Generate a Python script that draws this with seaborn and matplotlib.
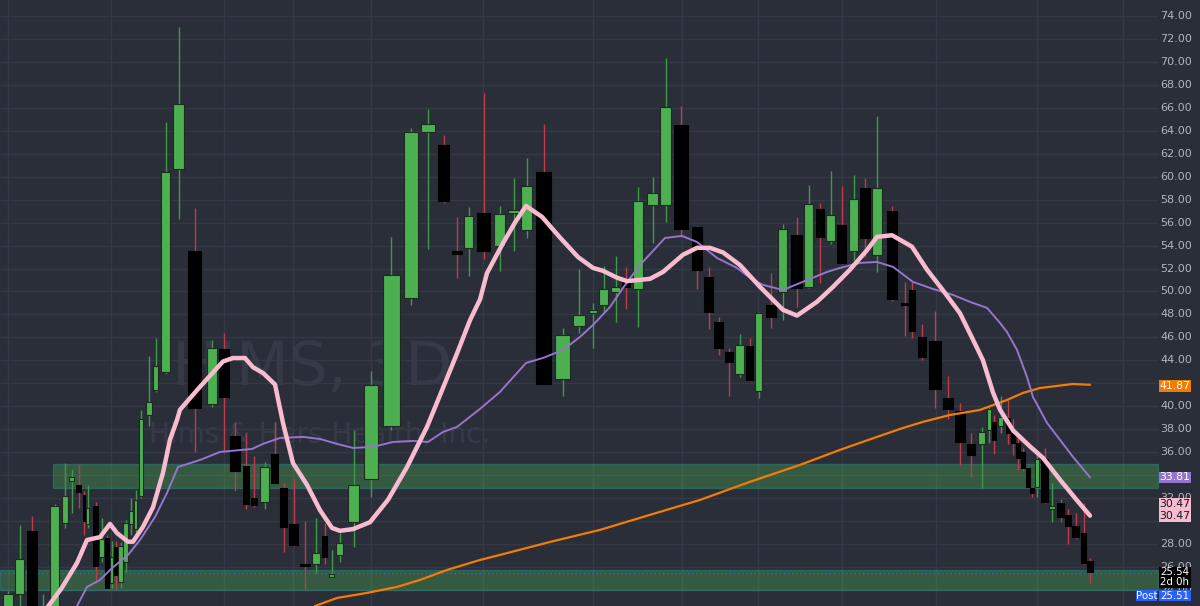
import numpy as np
import pandas as pd
import seaborn as sns
import matplotlib.pyplot as plt
from matplotlib.patches import Rectangle

# bar times (3D bars, plotted on the chart's own time scale)
t = [8, 19.5, 32, 43, 54.5, 65, 71.5, 78.5, 84, 87.5, 95.5, 101.5, 107, 111.5, 115.5,
     120.5, 125.5, 131, 135.5, 141, 149, 155.5, 165.5, 178.5, 194.5, 212, 224, 235, 246,
     254, 264.5, 274.5, 283.5, 293.5, 305, 316, 324.5, 331.5, 339.5, 353.5, 371, 391,
     411, 428, 443.5, 457, 468.5, 483.5, 499.5, 513.5, 526.5, 543.5, 562.5, 579, 593,
     603.5, 615.5, 626, 638, 652.5, 665.5, 681, 697, 708.5, 718.5, 729, 739.5, 749.5,
     758.5, 771, 782.5, 796.5, 808.5, 820, 830.5, 841.5, 853.5, 865, 877, 892, 904.5,
     912, 922, 935, 948, 960, 971, 981.5, 989, 994, 1000.5, 1008, 1013, 1018, 1023,
     1028, 1032, 1037, 1044.5, 1052, 1060.5, 1068, 1075.5, 1083.5, 1090]
opens = [22.0, 23.65, 29.14, 21.0, 21.8, 29.84, 33.5, 33.1, 32.3, 29.75, 31.3, 26.9, 28.5,
         24.6, 27.75, 24.7, 26.4, 29.75, 29.3, 32.2, 39.24, 41.4, 43.0, 60.7, 53.5, 40.2,
         45.0, 37.4, 34.8, 32.0, 31.7, 35.85, 32.9, 29.7, 26.3, 26.3, 28.7, 25.1, 27.0,
         29.9, 33.7, 38.3, 49.4, 63.9, 62.8, 53.4, 53.8, 56.85, 53.95, 56.85, 55.35, 60.4,
         42.4, 47.0, 48.15, 48.85, 49.95, 50.85, 50.2, 57.55, 57.55, 64.5, 55.6, 51.25,
         47.35, 44.75, 42.8, 45.25, 41.35, 48.85, 49.95, 54.9, 50.4, 57.2, 54.4, 55.8,
         53.55, 59.0, 53.2, 57.0, 48.85, 50.15, 46.05, 45.7, 40.7, 39.6, 36.7, 36.7, 37.95,
         38.65, 38.3, 39.0, 37.7, 36.8, 36.0, 34.65, 32.9, 32.95, 35.4, 31.05, 31.6, 30.55,
         29.6, 28.95, 26.55]
highs = [23.9, 29.66, 30.45, 23.65, 31.49, 35.06, 34.5, 34.9, 32.6, 33.1, 31.7, 30.3, 28.8,
         28.3, 28.3, 28.2, 30.1, 32.0, 32.7, 39.7, 44.4, 45.95, 64.8, 73.0, 57.3, 45.8,
         46.4, 38.6, 37.7, 35.7, 35.15, 38.6, 33.3, 33.7, 30.0, 30.3, 29.8, 27.5, 29.0,
         37.9, 43.1, 54.75, 64.2, 65.9, 63.6, 56.5, 57.4, 67.3, 57.45, 59.9, 61.6, 64.6,
         46.8, 51.95, 49.0, 52.2, 53.1, 52.15, 59.1, 60.0, 70.35, 66.15, 55.7, 52.15, 47.8,
         45.1, 46.3, 45.95, 48.2, 51.6, 55.9, 56.5, 59.3, 57.7, 60.5, 59.2, 60.15, 59.9,
         65.3, 57.45, 50.8, 50.8, 47.15, 48.3, 42.65, 40.3, 37.7, 38.2, 39.95, 39.2, 40.9,
         40.55, 38.9, 37.3, 36.35, 34.7, 33.0, 35.85, 36.35, 33.35, 31.95, 31.05, 30.7,
         31.6, 26.8]
lows = [21.5, 22.5, 21.5, 20.8, 21.5, 29.4, 30.7, 31.1, 28.8, 29.4, 24.6, 26.4, 24.0, 24.2,
        24.1, 24.2, 25.6, 28.8, 29.0, 32.0, 38.3, 41.25, 42.8, 56.3, 36.0, 39.9, 36.0,
        32.6, 31.05, 31.2, 31.05, 33.2, 27.3, 27.8, 24.0, 25.5, 26.3, 25.0, 26.4, 27.75,
        32.1, 37.9, 48.8, 53.7, 57.7, 51.2, 51.35, 52.8, 51.8, 53.5, 54.65, 41.9, 40.9,
        46.4, 45.1, 48.1, 47.35, 48.5, 46.9, 54.2, 56.05, 54.75, 50.2, 46.75, 44.45, 40.9,
        42.55, 42.2, 40.7, 46.8, 47.5, 48.65, 50.3, 50.75, 54.1, 52.4, 52.75, 53.0, 51.7,
        49.2, 46.1, 45.95, 44.05, 39.85, 38.9, 34.9, 33.85, 32.9, 36.8, 35.85, 37.7, 36.7,
        35.75, 34.45, 34.35, 32.9, 32.1, 32.1, 31.6, 29.95, 29.95, 28.0, 28.45, 26.3, 24.6]
closes = [23.65, 26.7, 21.8, 22.3, 31.32, 32.19, 33.8, 32.5, 30.0, 31.15, 26.1, 28.4, 24.2,
          26.9, 25.3, 27.85, 29.8, 30.9, 31.8, 38.9, 40.37, 43.5, 60.4, 66.3, 39.85, 45.1,
          40.8, 34.4, 31.5, 31.4, 34.7, 33.3, 29.5, 27.9, 26.1, 27.2, 26.9, 25.4, 28.1,
          33.15, 41.85, 51.4, 63.9, 64.6, 57.9, 53.3, 56.6, 53.5, 56.75, 57.1, 59.2, 41.95,
          46.2, 47.95, 48.4, 50.2, 50.4, 50.4, 57.9, 58.6, 66.05, 55.45, 51.85, 48.2, 45.1,
          43.85, 45.35, 42.3, 48.15, 47.8, 55.45, 50.3, 57.6, 54.75, 56.65, 52.5, 58.05,
          54.65, 59.0, 49.35, 48.8, 46.55, 44.3, 41.5, 39.75, 36.9, 35.75, 37.75, 39.75,
          37.05, 39.05, 37.7, 36.8, 35.5, 34.65, 32.95, 32.45, 35.4, 31.65, 31.3, 30.35,
          29.6, 28.6, 26.35, 25.54]

# moving averages
fast_t = [45, 62, 77, 87, 100, 110, 117, 128, 133, 143, 153, 163, 170, 177, 180, 200, 223,
          233, 245, 253, 263, 275, 283, 293, 307, 320, 332, 340, 353, 370, 388, 407, 427,
          443, 457, 470, 480, 487, 503, 515, 526, 542, 560, 578, 593, 603, 617, 627, 650,
          663, 683, 697, 710, 723, 740, 760, 783, 797, 817, 833, 850, 867, 877, 892, 912,
          927, 943, 960, 973, 983, 993, 1000, 1013, 1030, 1043, 1060, 1077, 1090]
fast_ma = [22.2, 24.2, 26.35, 28.35, 28.6, 29.75, 28.95, 28.2, 28.2, 29.5, 31.2, 34.2, 37.1,
           38.8, 39.7, 41.7, 43.9, 44.2, 44.2, 43.4, 42.9, 41.9, 38.55, 35.05, 33.15, 30.95,
           29.4, 29.15, 29.3, 29.9, 31.85, 34.7, 38.2, 41.6, 44.6, 47.5, 49.3, 51.6, 54.2,
           56.0, 57.45, 56.5, 54.7, 53.0, 52.05, 51.8, 51.2, 50.9, 51.1, 51.7, 53.2, 53.8,
           53.8, 53.4, 52.3, 50.4, 48.4, 47.9, 49.1, 50.4, 51.9, 53.6, 54.75, 54.9, 53.9,
           51.9, 50.1, 48.1, 45.8, 44.0, 41.2, 39.7, 37.9, 36.5, 35.5, 33.6, 31.8, 30.47]
mid_t = [77, 87, 100, 112, 128, 140, 155, 167, 178, 200, 220, 252, 263, 280, 303, 320, 337,
         353, 373, 393, 413, 428, 443, 457, 480, 500, 526, 543, 563, 580, 593, 610, 623,
         640, 665, 682, 697, 717, 737, 750, 763, 783, 800, 827, 840, 860, 877, 893, 913,
         933, 953, 970, 987, 1000, 1007, 1017, 1027, 1033, 1047, 1060, 1073, 1090]
mid_ma = [22.6, 24.26, 24.87, 25.9, 27.05, 28.35, 30.36, 32.45, 34.71, 35.32, 36.02, 36.28,
          36.72, 37.24, 37.33, 37.15, 36.72, 36.37, 36.46, 36.89, 36.98, 36.89, 37.76, 38.2,
          39.77, 41.25, 43.77, 44.21, 44.9, 46.04, 47.08, 48.65, 50.31, 52.31, 54.66, 54.84,
          54.31, 52.92, 52.05, 51.18, 50.57, 50.13, 50.74, 51.7, 52.05, 52.49, 52.57, 52.14,
          50.83, 50.22, 49.7, 49.09, 48.57, 47.26, 46.47, 44.91, 42.55, 40.81, 38.55, 37.07,
          35.59, 33.81]
slow_t = [315, 337, 367, 397, 420, 447, 480, 500, 550, 600, 650, 700, 750, 800, 840, 857,
          877, 903, 923, 950, 980, 1007, 1023, 1040, 1057, 1073, 1090]
slow_ma = [22.6, 23.3, 23.74, 24.26, 24.87, 25.74, 26.61, 27.05, 28.18, 29.23, 30.54, 31.84,
           33.42, 34.89, 36.2, 36.72, 37.33, 38.11, 38.64, 39.24, 39.68, 40.55, 41.16, 41.59,
           41.77, 41.94, 41.87]

# support zones (low, high, start) and month grid
zones = [(32.89, 34.98, 53), (24.0, 25.74, 0)]
month_t = [8, 111, 224, 293, 371, 483, 593, 682, 758, 842, 936, 1037, 1123]
# 34, 42 and 30 sit fully under the price tags
price_ticks = [p for p in range(24, 76, 2) if p not in (30, 34, 42)]
last_price = 25.54
post_price = 25.51

bg = '#2a2e39'
grid_c = '#353945'
up_c, up_wick = '#4caf50', '#3f9a45'
dn_c, dn_wick = '#000000', '#c23a4a'

sns.set_theme(style='dark', rc={'axes.facecolor': bg, 'figure.facecolor': bg})
plt.rcParams['font.family'] = ['DejaVu Sans']

df = pd.DataFrame({'t': t, 'open': opens, 'high': highs, 'low': lows, 'close': closes})
gaps = np.diff(df['t'].values)
left = np.r_[gaps[0], gaps]
right = np.r_[gaps, gaps[-1]]
df['w'] = 0.85 * np.minimum(left, right)
df['up'] = df['close'] >= df['open']
df['bottom'] = df[['open', 'close']].min(axis=1)
df['height'] = (df['close'] - df['open']).abs().clip(lower=0.2)

fig = plt.figure(figsize=(12, 6.06), dpi=100)
ax = fig.add_axes([0, 0, 1, 1])
ax.set_xlim(0, 1200)
ax.set_ylim(22.6, 75.39)
ax.set_axis_off()
ax.add_patch(Rectangle((0, 0), 1, 1, transform=ax.transAxes, color=bg, zorder=-5))

# grid
for m in month_t:
    ax.axvline(m, color=grid_c, lw=1, zorder=0)
ax.hlines(range(24, 76, 2), 0, 1158, color=grid_c, lw=1, zorder=0)

# watermark
ax.text(312, 43.3, 'HIMS, 3D', fontsize=44, color='#363a47', ha='center', va='center', zorder=0.5)
ax.text(320, 37.5, 'Hims & Hers Health, Inc.', fontsize=20, color='#363a47', ha='center', va='center', zorder=0.5)

# zones
for lo, hi, x0 in zones:
    ax.add_patch(Rectangle((x0, lo), 1158 - x0, hi - lo, facecolor='#4caf50', alpha=0.35,
                           edgecolor='#26a69a', lw=1, zorder=1))
ax.hlines(post_price, 0, 1158, color='#2962ff', lw=1, linestyles=(0, (1, 2)), zorder=1.5)

# candles
up = df[df['up']]
dn = df[~df['up']]
ax.vlines(up['t'], up['low'], up['high'], color=up_wick, lw=1, zorder=2)
ax.vlines(dn['t'], dn['low'], dn['high'], color=dn_wick, lw=1, zorder=2)
ax.bar(up['t'], up['height'], bottom=up['bottom'], width=up['w'], color=up_c,
       edgecolor='#1c2a1f', lw=0.8, zorder=3)
ax.bar(dn['t'], dn['height'], bottom=dn['bottom'], width=dn['w'], color=dn_c,
       edgecolor='#000000', lw=0.8, zorder=3)

# moving averages
sns.lineplot(x=slow_t, y=slow_ma, ax=ax, color='#f57c00', lw=1.6, sort=False, estimator=None, zorder=4)
sns.lineplot(x=mid_t, y=mid_ma, ax=ax, color='#9575cd', lw=1.4, sort=False, estimator=None, zorder=4)
sns.lineplot(x=fast_t, y=fast_ma, ax=ax, color='#f8bbd0', lw=3.2, sort=False, estimator=None, zorder=5)

# price scale
for p in price_ticks:
    ax.text(1176, p, f'{p:.2f}', ha='center', va='center', fontsize=8, color='#b2b5be', zorder=6)


def tag(y0, y1, lines, fc, tc='white', x0=1159, x1=1191, size=7.8):
    ax.add_patch(Rectangle((x0, y0), x1 - x0, y1 - y0, facecolor=fc, edgecolor='none', zorder=7))
    for yy, s in lines:
        ax.text((x0 + x1) / 2, yy, s, ha='center', va='center', fontsize=size, color=tc, zorder=8)


tag(41.25, 42.29, [(41.8, f'{slow_ma[-1]:.2f}')], '#f57c00')
tag(33.32, 34.28, [(33.8, f'{mid_ma[-1]:.2f}')], '#9575cd')
tag(29.92, 32.02, [(31.47, f'{fast_ma[-1]:.2f}'), (30.4, f'{fast_ma[-1]:.2f}')], '#f8bbd0', '#131722')
tag(24.17, 26.0, [(25.52, f'{last_price:.2f}'), (24.66, '2d 0h')], '#000000', size=7.4)
tag(23.04, 23.99, [(23.5, f'{post_price:.2f}')], '#2962ff', size=7.4)
tag(23.04, 23.99, [(23.5, 'Post')], '#2962ff', x0=1136, x1=1157, size=7.4)

fig.savefig('out.png', dpi=100, facecolor=bg)
